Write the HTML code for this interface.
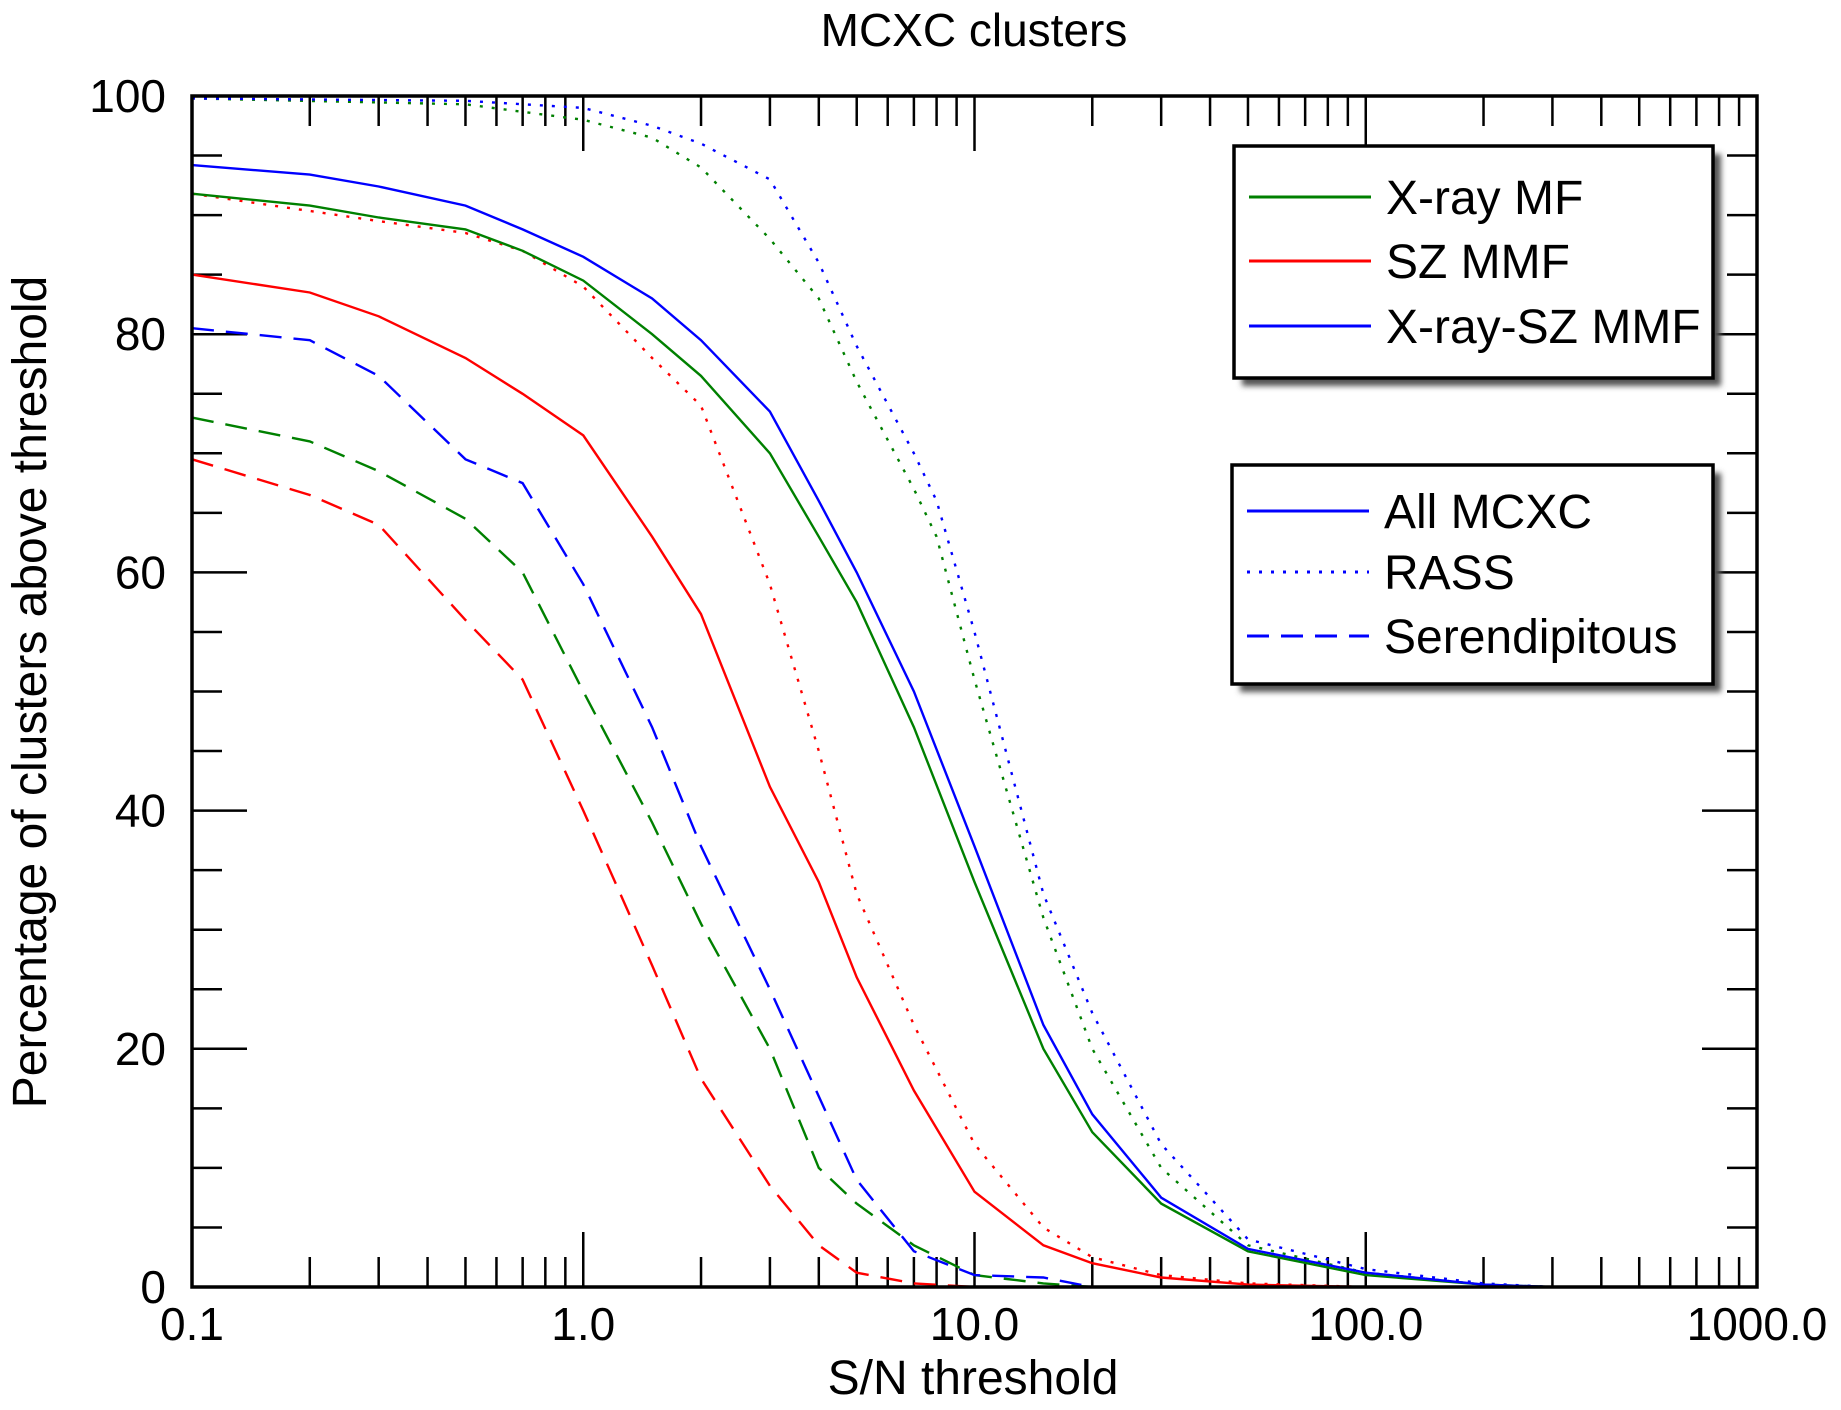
<!DOCTYPE html>
<html><head><meta charset="utf-8"><style>
html,body{margin:0;padding:0;background:#fff;}
svg{display:block;font-family:"Liberation Sans",sans-serif;}
</style></head><body>
<svg id="chart" width="1841" height="1410" viewBox="0 0 1841 1410">
<defs><filter id="sh" x="-5%" y="-5%" width="115%" height="115%"><feGaussianBlur stdDeviation="3"/></filter></defs>
<text x="974" y="46" font-size="46" text-anchor="middle">MCXC clusters</text>
<text x="973" y="1394" font-size="48" text-anchor="middle">S/N threshold</text>
<text transform="translate(46,692) rotate(-90)" font-size="48" text-anchor="middle">Percentage of clusters above threshold</text>
<g id="ticks"></g>
<g id="series"></g>
<rect x="192" y="96" width="1565" height="1191" fill="none" stroke="#000" stroke-width="3.5"/>
<g id="legends"></g>
</svg>
<script>
const xTickVals=[0.1,1,10,100,1000];
const xTickLabels=["0.1","1.0","10.0","100.0","1000.0"];
const yTickVals=[0,20,40,60,80,100];
const yTickLabels=["0","20","40","60","80","100"];
const snBlueSolid=[0.1,0.2,0.3,0.5,0.7,1,1.5,2,3,4,5,7,10,15,20,30,50,100,200,300];
const pBlueSolid=[94.2,93.4,92.4,90.8,88.8,86.5,83,79.5,73.5,66,60,50,37,22,14.5,7.5,3.2,1.2,0.2,0];
const snGreenSolid=[0.1,0.2,0.3,0.5,0.7,1,1.5,2,3,4,5,7,10,15,20,30,50,100,200,300];
const pGreenSolid=[91.8,90.8,89.8,88.8,87,84.5,80,76.5,70,63,57.5,47,34,20,13,7,3,1,0.2,0];
const snRedSolid=[0.1,0.2,0.3,0.5,0.7,1,1.5,2,3,4,5,7,10,15,20,30,50,100];
const pRedSolid=[85,83.5,81.5,78,75,71.5,63,56.5,42,34,26,16.5,8,3.5,2,0.8,0.2,0];
const snRedDot=[0.1,0.3,0.5,0.7,1,1.5,2,3,4,5,7,10,15,20,30,50,100];
const pRedDot=[91.8,89.5,88.5,87,84,78,74,59,45,33,22,12,5,2.5,1,0.3,0];
const snBlueDot=[0.1,0.5,1,1.5,2,3,4,5,7,8,10,15,20,30,50,100,200,300];
const pBlueDot=[99.8,99.6,99,97.5,96,93,86,79,70,66,55,33,23,12,4,1.5,0.3,0];
const snGreenDot=[0.1,0.5,1,1.5,2,3,4,5,7,8,10,15,20,30,50,100,200];
const pGreenDot=[99.8,99.3,98,96.5,94,88,83,76,67,63,51,31,20,10,3.5,1.2,0.2];
const snBlueDash=[0.1,0.2,0.3,0.5,0.7,1,1.5,2,3,4,5,7,10,15,20];
const pBlueDash=[80.5,79.5,76.5,69.5,67.5,59,47,37,25,16,9,3,1,0.8,0];
const snGreenDash=[0.1,0.2,0.3,0.5,0.7,1,1.5,2,3,4,5,7,10,15,20];
const pGreenDash=[73,71,68.5,64.5,60,50,39,30.5,20,10,7,3.5,1,0.3,0];
const snRedDash=[0.1,0.2,0.3,0.5,0.7,1,1.5,2,3,4,5,7,10];
const pRedDash=[69.5,66.5,64,56,51,40,27,17.5,8.5,3.5,1.2,0.3,0];

const L=192,R=1757,T=96,B=1287,NS="http://www.w3.org/2000/svg";
function xs(v){return L+(R-L)*(Math.log10(v)+1)/4;}
function ys(v){return B-(B-T)*v/100;}
function mk(tag,attrs,parent){const e=document.createElementNS(NS,tag);for(const k in attrs)e.setAttribute(k,attrs[k]);parent.appendChild(e);return e;}
const tg=document.getElementById('ticks');
for(let d=-1;d<3;d++){for(let m=1;m<10;m++){const v=m*Math.pow(10,d);const x=xs(v);const len=m===1?55:30;
const t1=mk('line',{x1:x,y1:B,x2:x,y2:B-len,stroke:'#000','stroke-width':2.5},tg);


const t2=mk('line',{x1:x,y1:T,x2:x,y2:T+len,stroke:'#000','stroke-width':2.5},tg);

}}
xTickVals.forEach((v,i)=>{const t=mk('text',{x:xs(v),y:1340,'font-size':46,'text-anchor':'middle'},tg);t.textContent=xTickLabels[i];

});
for(let v=0;v<=100;v+=5){const y=ys(v);const len=v%20===0?55:30;
const t1=mk('line',{x1:L,y1:y,x2:L+len,y2:y,stroke:'#000','stroke-width':2.5},tg);


const t2=mk('line',{x1:R,y1:y,x2:R-len,y2:y,stroke:'#000','stroke-width':2.5},tg);

}
yTickVals.forEach((v,i)=>{const t=mk('text',{x:166,y:ys(v)+16,'font-size':46,'text-anchor':'end'},tg);t.textContent=yTickLabels[i];

});
const sg=document.getElementById('series');
const series=[
 ['green-dotted',snGreenDot,pGreenDot,'#008000','3 9'],
 ['blue-dotted',snBlueDot,pBlueDot,'#0000ff','3 9'],
 ['red-dotted',snRedDot,pRedDot,'#ff0000','3 9'],
 ['green-dashed',snGreenDash,pGreenDash,'#008000','22 12'],
 ['blue-dashed',snBlueDash,pBlueDash,'#0000ff','22 12'],
 ['red-dashed',snRedDash,pRedDash,'#ff0000','22 12'],
 ['red-solid',snRedSolid,pRedSolid,'#ff0000',''],
 ['green-solid',snGreenSolid,pGreenSolid,'#008000',''],
 ['blue-solid',snBlueSolid,pBlueSolid,'#0000ff','']];
series.forEach(s=>{const pts=s[1].map((v,i)=>xs(v).toFixed(1)+','+ys(s[2][i]).toFixed(1)).join(' ');
const a={points:pts,fill:'none',stroke:s[3],'stroke-width':2.4};if(s[4])a['stroke-dasharray']=s[4];
const p=mk('polyline',a,sg);

});
const lg=document.getElementById('legends');
function legend(name,x,y,w,h,rows){const g=mk('g',{},lg);


mk('rect',{x:x+8,y:y+8,width:w,height:h,fill:'#555',filter:'url(#sh)'},g);
mk('rect',{x:x,y:y,width:w,height:h,fill:'#fff',stroke:'#000','stroke-width':3.5},g);
rows.forEach(r=>{const a={x1:x+15,y1:r[1],x2:x+137,y2:r[1],stroke:r[2],'stroke-width':3};if(r[3])a['stroke-dasharray']=r[3];
const ln=mk('line',a,g);


const t=mk('text',{x:x+152,y:r[1]+17,'font-size':48},g);t.textContent=r[0];

});}
legend('legend-methods',1234,146,479,232,[['X-ray MF',197,'#008000'],['SZ MMF',261,'#ff0000'],['X-ray-SZ MMF',326,'#0000ff']]);
legend('legend-samples',1232,465,481,219,[['All MCXC',511,'#0000ff'],['RASS',572,'#0000ff','3 9'],['Serendipitous',636,'#0000ff','22 12']]);
</script>
</body></html>
